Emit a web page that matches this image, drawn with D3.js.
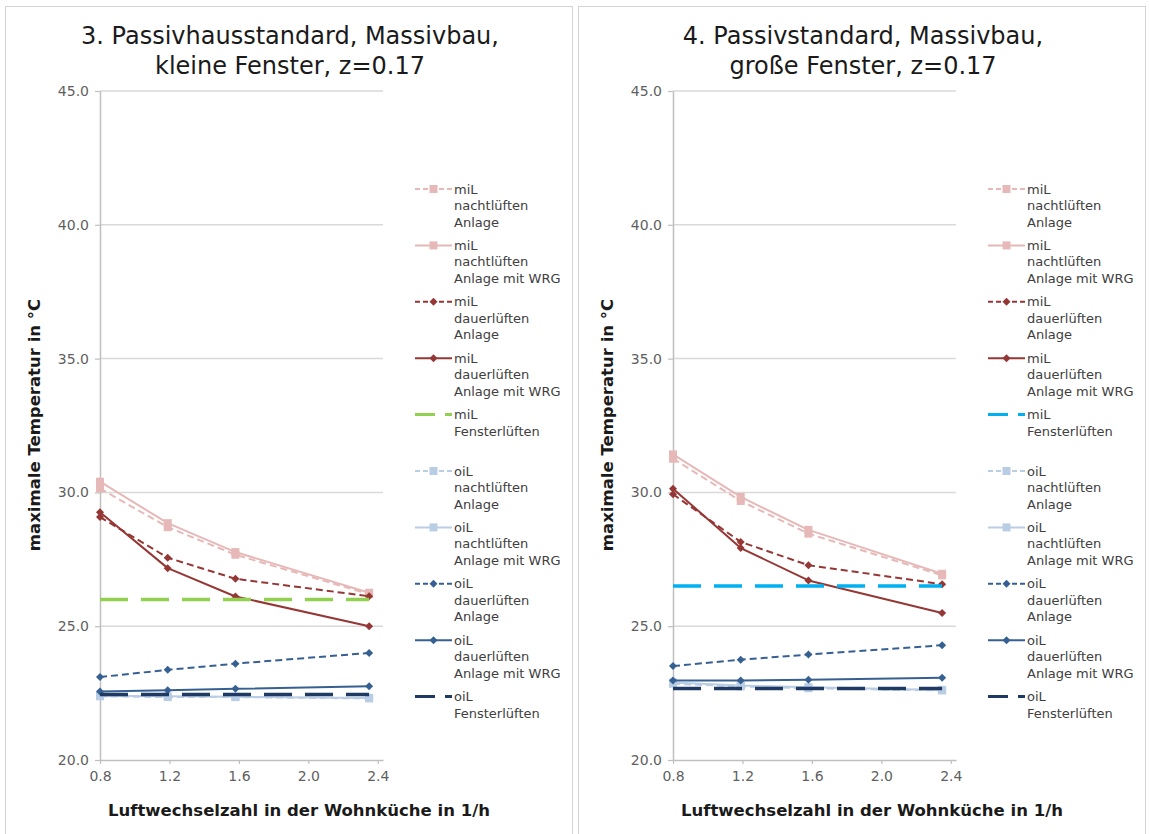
<!DOCTYPE html>
<html>
<head>
<meta charset="utf-8">
<script src="https://cdn.jsdelivr.net/npm/d3@7"></script>
<style>
  body { margin: 0; background: #ffffff; }
  text { font-family: "DejaVu Sans", sans-serif; }
</style>
</head>
<body>
<svg id="chart" width="1149" height="834"></svg>
<script>
// Air change rates in the living kitchen (1/h) at which each case was simulated
const airChangeRates = [0.8, 1.19, 1.58, 2.35];

// Axis ticks
const xTickValues = [0.8, 1.2, 1.6, 2.0, 2.4];
const yTickValues = [20, 25, 30, 35, 40, 45];

// Legend entries (one text line per array item)
const seriesLabels = [
  ["miL", "nachtlüften", "Anlage"],
  ["miL", "nachtlüften", "Anlage mit WRG"],
  ["miL", "dauerlüften", "Anlage"],
  ["miL", "dauerlüften", "Anlage mit WRG"],
  ["miL", "Fensterlüften"],
  ["oiL", "nachtlüften", "Anlage"],
  ["oiL", "nachtlüften", "Anlage mit WRG"],
  ["oiL", "dauerlüften", "Anlage"],
  ["oiL", "dauerlüften", "Anlage mit WRG"],
  ["oiL", "Fensterlüften"]
];

// Panel titles
const panel3Title = ["3. Passivhausstandard, Massivbau,", "kleine Fenster, z=0.17"];
const panel4Title = ["4. Passivstandard, Massivbau,", "große Fenster, z=0.17"];

// Maximum temperatures (°C), one row per legend entry
const panel3Values = [
  [30.15, 28.70, 27.67, 26.20],
  [30.40, 28.85, 27.77, 26.25],
  [29.08, 27.56, 26.77, 26.12],
  [29.26, 27.17, 26.11, 25.00],
  [26.00, 26.00, 26.00, 26.00],
  [22.38, 22.35, 22.35, 22.30],
  [22.40, 22.38, 22.36, 22.32],
  [23.10, 23.37, 23.60, 24.00],
  [22.56, 22.61, 22.66, 22.76],
  [22.45, 22.45, 22.45, 22.45]
];

const panel4Values = [
  [31.26, 29.68, 28.46, 26.90],
  [31.42, 29.83, 28.60, 26.96],
  [29.93, 28.15, 27.28, 26.57],
  [30.14, 27.92, 26.71, 25.49],
  [26.50, 26.50, 26.50, 26.50],
  [22.85, 22.75, 22.68, 22.60],
  [22.90, 22.78, 22.72, 22.62],
  [23.51, 23.75, 23.94, 24.29],
  [22.97, 22.97, 23.00, 23.07],
  [22.67, 22.67, 22.67, 22.67]
];

// Window-ventilation colour differs between the two panels
const panel3WindowColor = "#92d050";
const panel4WindowColor = "#00b0f0";

// Line styles per legend entry
const seriesStyles = [
  { color: "#e6b9b8", dash: "7,4", marker: "square", width: 2 },
  { color: "#e6b9b8", dash: null, marker: "square", width: 2 },
  { color: "#953735", dash: "7,4", marker: "diamond", width: 2 },
  { color: "#953735", dash: null, marker: "diamond", width: 2 },
  { color: null, dash: "28,13", marker: null, width: 3.5, window: true },
  { color: "#b9cde5", dash: "7,4", marker: "square", width: 2 },
  { color: "#b9cde5", dash: null, marker: "square", width: 2 },
  { color: "#376092", dash: "7,4", marker: "diamond", width: 2 },
  { color: "#376092", dash: null, marker: "diamond", width: 2 },
  { color: "#1f3b63", dash: "28,13", marker: null, width: 3.5, window: true }
];

const panels = [
  { offset: 0, title: panel3Title, values: panel3Values, windowColor: panel3WindowColor },
  { offset: 573, title: panel4Title, values: panel4Values, windowColor: panel4WindowColor }
];

const svg = d3.select("#chart");

const squareSym = d3.symbol().type(d3.symbolSquare).size(64);
// evenly proportioned diamond marker
const diamondPath = "M0,-4L4,0L0,4L-4,0Z";

function markerPath(kind) {
  return kind === "square" ? squareSym() : diamondPath;
}

function drawPanel(p) {
  const g = svg.append("g").attr("transform", `translate(${p.offset},0)`);

  // panel frame
  g.append("rect")
    .attr("x", 5.5).attr("y", 6.5)
    .attr("width", 567).attr("height", 840)
    .attr("fill", "none").attr("stroke", "#d4d4d4").attr("stroke-width", 1);

  const x = d3.scaleLinear().domain([0.8, 2.43]).range([100, 383]);
  const y = d3.scaleLinear().domain([20, 45]).range([760, 91]);

  // title
  g.append("text")
    .attr("x", 290).attr("y", 44)
    .attr("text-anchor", "middle")
    .attr("font-size", 24).attr("fill", "#1a1a1a")
    .selectAll("tspan").data(p.title).join("tspan")
    .attr("x", 290).attr("dy", (d, i) => i === 0 ? 0 : 30)
    .text(d => d);

  // horizontal gridlines
  g.append("g").selectAll("line")
    .data(yTickValues.filter(v => v > 20))
    .join("line")
    .attr("x1", 100).attr("x2", 383)
    .attr("y1", d => y(d)).attr("y2", d => y(d))
    .attr("stroke", "#d9d9d9").attr("stroke-width", 1.5);

  // axes
  const yAxis = g.append("g").attr("transform", "translate(100,0)")
    .call(d3.axisLeft(y).tickValues(yTickValues).tickFormat(d3.format(".1f"))
      .tickSize(5).tickSizeOuter(0).tickPadding(6));
  const xAxis = g.append("g").attr("transform", "translate(0,760)")
    .call(d3.axisBottom(x).tickValues(xTickValues).tickFormat(d3.format(".1f"))
      .tickSize(4).tickSizeOuter(0).tickPadding(7));
  [yAxis, xAxis].forEach(a => {
    a.select(".domain").attr("stroke", "#bfbfbf").attr("stroke-width", 1.5);
    a.selectAll(".tick line").attr("stroke", "#bfbfbf").attr("stroke-width", 1.2);
    a.selectAll(".tick text").attr("fill", "#5f5f5f")
      .attr("font-size", 14).attr("font-family", "DejaVu Sans, sans-serif");
  });

  // axis titles
  g.append("text")
    .attr("transform", "translate(40,425) rotate(-90)")
    .attr("text-anchor", "middle")
    .attr("font-size", 16.5).attr("font-weight", "bold").attr("fill", "#1a1a1a")
    .text("maximale Temperatur in °C");
  g.append("text")
    .attr("x", 299).attr("y", 816)
    .attr("text-anchor", "middle")
    .attr("font-size", 16.5).attr("font-weight", "bold").attr("fill", "#1a1a1a")
    .text("Luftwechselzahl in der Wohnküche in 1/h");

  // series
  const line = d3.line()
    .x((d, i) => x(airChangeRates[i]))
    .y(d => y(d));

  const plot = g.append("g");
  p.values.forEach((vals, si) => {
    const st = seriesStyles[si];
    const color = st.window ? (st.color || p.windowColor) : st.color;
    plot.append("path")
      .attr("d", line(vals))
      .attr("fill", "none")
      .attr("stroke", color)
      .attr("stroke-width", st.width)
      .attr("stroke-dasharray", st.dash)
      .attr("stroke-linejoin", "round");
    if (st.marker) {
      plot.append("g").selectAll("path")
        .data(vals).join("path")
        .attr("transform", (d, i) => `translate(${x(airChangeRates[i])},${y(d)})`)
        .attr("d", markerPath(st.marker))
        .attr("fill", color);
    }
  });

  // legend
  const legend = g.append("g");
  seriesLabels.forEach((lines, si) => {
    const st = seriesStyles[si];
    const color = st.window ? (st.color || p.windowColor) : st.color;
    const ly = 189 + si * 56.4;
    const item = legend.append("g");
    item.append("line")
      .attr("x1", 415).attr("x2", 452)
      .attr("y1", ly).attr("y2", ly)
      .attr("stroke", color)
      .attr("stroke-width", st.window ? 3 : 2)
      .attr("stroke-dasharray", st.window ? "20,10" : (st.dash ? "5,3" : null));
    if (st.marker) {
      item.append("path")
        .attr("transform", `translate(433.5,${ly})`)
        .attr("d", markerPath(st.marker))
        .attr("fill", color);
    }
    item.append("text")
      .attr("font-size", 13).attr("fill", "#404040")
      .selectAll("tspan").data(lines).join("tspan")
      .attr("x", 454)
      .attr("y", (d, i) => ly + i * 16.5)
      .attr("dy", "0.35em")
      .text(d => d);
  });
}

panels.forEach(drawPanel);
</script>
</body>
</html>
